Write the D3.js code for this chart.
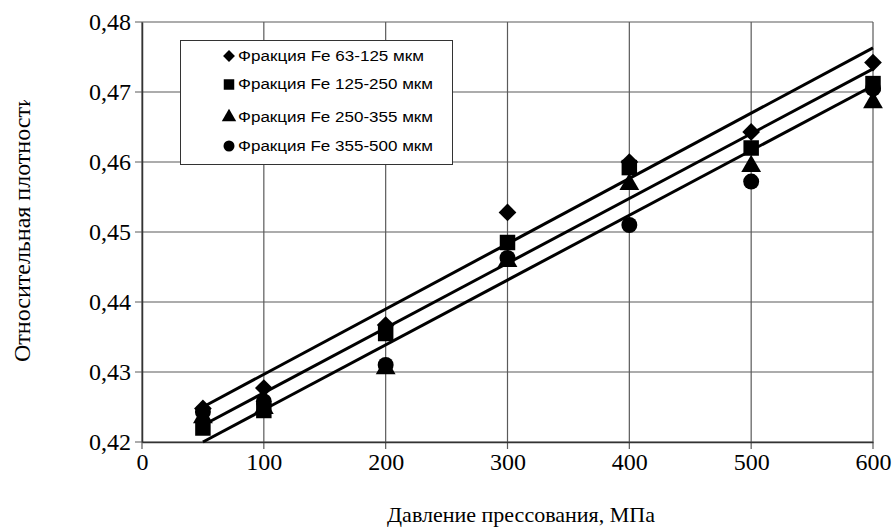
<!DOCTYPE html>
<html>
<head>
<meta charset="utf-8">
<script src="https://cdn.jsdelivr.net/npm/d3@7"></script>
<style>
    body { margin: 0; background: #fff; }
    svg { display: block; }
    .grid line { stroke: #5a5a5a; stroke-width: 1.2; }
    .axis-title { font-family: "Liberation Serif", "Times New Roman", serif; font-size: 22px; fill: #000; }
    .legend-text { font-family: "Liberation Sans", Arial, sans-serif; font-size: 14px; fill: #000; }
    .trend { stroke: #000; stroke-width: 3; fill: none; }
</style>
</head>
<body>
<svg id="svg"></svg>
<script>
const pressure = [50, 100, 200, 300, 400, 500, 600];

const fe63 = [0.4248, 0.4277, 0.4367, 0.4528, 0.4600, 0.4643, 0.4742];
const fe125 = [0.4220, 0.4245, 0.4355, 0.4485, 0.4592, 0.4620, 0.4712];
const fe250 = [0.4235, 0.4248, 0.4305, 0.4458, 0.4568, 0.4594, 0.4685];
const fe355 = [0.4243, 0.4258, 0.4310, 0.4463, 0.4510, 0.4572, 0.4705];

const seriesNames = [
    'Фракция Fe 63-125 мкм',
    'Фракция Fe 125-250 мкм',
    'Фракция Fe 250-355 мкм',
    'Фракция Fe 355-500 мкм'
];
const seriesSymbols = ['diamond', 'square', 'triangle', 'circle'];

// trend lines as seen on the picture: value at 50 MPa and at 600 MPa
const trendX = [50, 600];
const trendTop = [0.4250, 0.4763];
const trendMid = [0.4224, 0.4733];
const trendLow = [0.4200, 0.4709];

const xTicks = [0, 100, 200, 300, 400, 500, 600];
const yTicks = [0.42, 0.43, 0.44, 0.45, 0.46, 0.47, 0.48];

const width = 892, height = 528;
const margin = {top: 22, left: 142, right: 19, bottom: 86};

const svg = d3.select('#svg')
    .attr('width', width)
    .attr('height', height);

const x = d3.scaleLinear()
    .domain([0, 600])
    .range([margin.left, width - margin.right]);
const y = d3.scaleLinear()
    .domain([0.42, 0.48])
    .range([height - margin.bottom, margin.top]);

// grid
const grid = svg.append('g').attr('class', 'grid');
grid.selectAll('.gx').data(xTicks).enter()
    .append('line')
    .attr('x1', d => x(d)).attr('x2', d => x(d))
    .attr('y1', y(0.48)).attr('y2', y(0.42) + 7);
grid.selectAll('.gy').data(yTicks).enter()
    .append('line')
    .attr('x1', x(0) - 7).attr('x2', x(600))
    .attr('y1', d => y(d)).attr('y2', d => y(d));

// axes
const xAxis = d3.axisBottom(x).tickValues(xTicks).tickSize(0).tickPadding(11)
    .tickFormat(d3.format('d'));
const yAxis = d3.axisLeft(y).tickValues(yTicks).tickSize(0).tickPadding(11)
    .tickFormat(d => d3.format('.2f')(d).replace('.', ','));

const gx = svg.append('g')
    .attr('transform', 'translate(0,' + y(0.42) + ')')
    .call(xAxis);
const gy = svg.append('g')
    .attr('transform', 'translate(' + x(0) + ',0)')
    .call(yAxis);
[gx, gy].forEach(g => {
    g.select('.domain').attr('stroke', '#333').attr('stroke-width', 1.5);
    g.selectAll('.tick text')
        .style('font-family', '"Liberation Serif", "Times New Roman", serif')
        .style('font-size', '24px')
        .style('fill', '#000');
});
gx.selectAll('text').attr('dy', '0.71em');

// axis titles
svg.append('text')
    .attr('class', 'axis-title')
    .attr('x', 521)
    .attr('y', 522)
    .attr('text-anchor', 'middle')
    .text('Давление прессования, МПа');

svg.append('clipPath').attr('id', 'ytitle-clip')
    .append('rect').attr('x', 0).attr('y', 100).attr('width', 60).attr('height', 300);
svg.append('g')
    .attr('clip-path', 'url(#ytitle-clip)')
    .append('text')
    .attr('class', 'axis-title')
    .style('font-size', '24px')
    .attr('transform', 'translate(30,362) rotate(-90)')
    .attr('text-anchor', 'start')
    .text('Относительная плотности');

// trend lines
[trendTop, trendMid, trendLow].forEach(t => {
    svg.append('line')
        .attr('class', 'trend')
        .attr('x1', x(trendX[0])).attr('y1', y(t[0]))
        .attr('x2', x(trendX[1])).attr('y2', y(t[1]));
});

const symbolFor = {
    diamond: d3.symbol().type(d3.symbolDiamond2).size(200),
    square: d3.symbol().type(d3.symbolSquare).size(240),
    triangle: d3.symbol().type(d3.symbolTriangle).size(170),
    circle: d3.symbol().type(d3.symbolCircle).size(200)
};

// markers
[fe63, fe125, fe250, fe355].forEach((vals, i) => {
    svg.append('g').selectAll('path')
        .data(vals).enter()
        .append('path')
        .attr('d', symbolFor[seriesSymbols[i]]())
        .attr('fill', '#000')
        .attr('transform', (d, j) => 'translate(' + x(pressure[j]) + ',' + y(d) + ')');
});

// legend
const legend = svg.append('g');
legend.append('rect')
    .attr('x', 180.5).attr('y', 40.5)
    .attr('width', 272).attr('height', 124)
    .attr('fill', '#fff').attr('stroke', '#333').attr('stroke-width', 1);

const legendRows = [56, 84.5, 117, 146];
const legendSymbol = {
    diamond: d3.symbol().type(d3.symbolDiamond2).size(90),
    square: d3.symbol().type(d3.symbolSquare).size(110),
    triangle: d3.symbol().type(d3.symbolTriangle).size(90),
    circle: d3.symbol().type(d3.symbolCircle).size(95)
};
seriesNames.forEach((name, i) => {
    legend.append('path')
        .attr('d', legendSymbol[seriesSymbols[i]]())
        .attr('fill', '#000')
        .attr('transform', 'translate(229,' + legendRows[i] + ')');
    legend.append('text')
        .attr('class', 'legend-text')
        .attr('x', 238)
        .attr('y', legendRows[i])
        .attr('dy', '0.35em')
        .attr('textLength', i === 0 ? 186 : 195)
        .attr('lengthAdjust', 'spacingAndGlyphs')
        .text(name);
});
</script>
</body>
</html>
